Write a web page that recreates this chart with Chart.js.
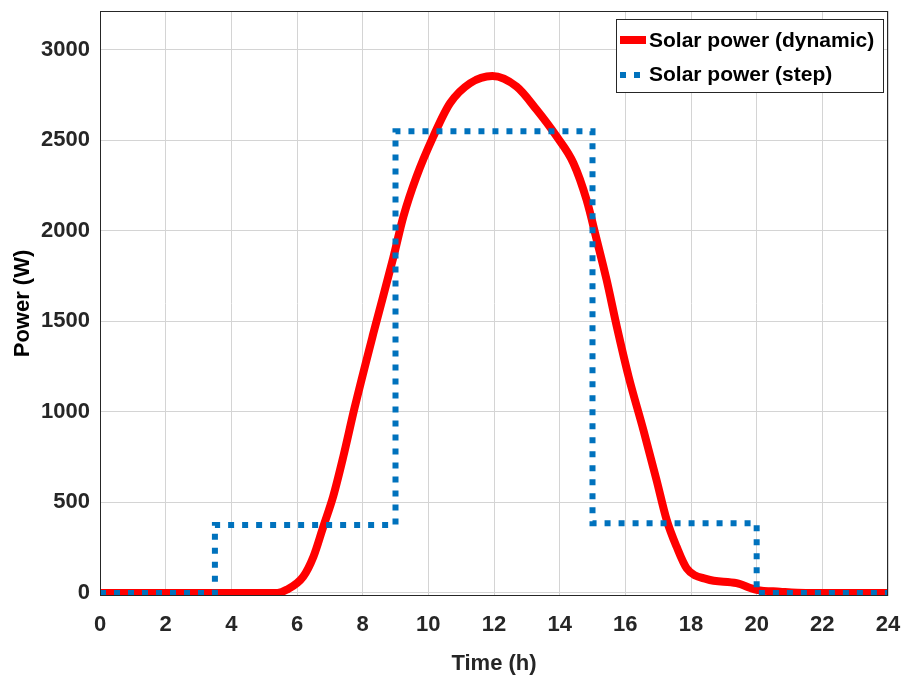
<!DOCTYPE html>
<html>
<head>
<meta charset="utf-8">
<script src="https://cdn.jsdelivr.net/npm/chart.js@4"></script>
<style>
  html, body { margin: 0; padding: 0; background: #fff; }
  #wrap { width: 903px; height: 677px; }
</style>
</head>
<body>
<div id="wrap"><canvas id="solarChart" width="903" height="677"></canvas></div>
<script>
// ---- data ----
const dynHours = [0, 5.4, 5.68, 6.19, 6.5, 6.8, 7.1, 7.41, 7.75, 8.32, 8.93, 9.24, 9.64, 10.15, 10.66, 11.27, 11.95, 12.69, 13.3, 13.91, 14.42, 14.82, 15.13, 15.43, 15.74, 16.1, 16.55, 16.95, 17.26, 17.56, 17.87, 18.48, 19.39, 20.0, 20.71, 21.5, 24];
const dynPower = [0, 0, 17, 90, 200, 366, 532, 753, 1020, 1430, 1850, 2079, 2300, 2521, 2705, 2816, 2856, 2797, 2669, 2521, 2374, 2171, 1950, 1729, 1471, 1195, 900, 624, 403, 256, 136, 76, 54, 17, 7, 0, 0];

const stepHours = [0, 3.5, 9, 15, 20, 24];
const stepPower = [0, 375, 2550, 385, 0, 0];

const xTicks = [0, 2, 4, 6, 8, 10, 12, 14, 16, 18, 20, 22, 24];
const yTicks = [0, 500, 1000, 1500, 2000, 2500, 3000];

const legendLabels = ['Solar power (dynamic)', 'Solar power (step)'];

const RED = '#ff0000';
const BLUE = '#0072bd';
const AXIS = '#262626';
const FONT = '"Liberation Sans", Arial, sans-serif';

function pairs(xs, ys) {
    return xs.map((x, i) => ({ x: x, y: ys[i] }));
}

// fix chart area exactly: drop the label overhang padding chart.js adds
function noOverhang(scale) {
    scale.paddingTop = 0;
    scale.paddingBottom = 0;
    scale.paddingLeft = 0;
    scale.paddingRight = 0;
}

// box around plot + legend inside the axes (MATLAB style)
const matlabDecor = {
    id: 'matlabDecor',
    afterDatasetsDraw(chart) {
        const ctx = chart.ctx;
        const a = chart.chartArea;
        ctx.save();
        ctx.strokeStyle = AXIS;
        ctx.lineWidth = 1;
        ctx.strokeRect(a.left + 0.5, a.top + 0.5, a.right - a.left - 1, a.bottom - a.top - 1);

        // legend box
        const lx = 616, ly = 19, lw = 267, lh = 73;
        ctx.fillStyle = '#fff';
        ctx.fillRect(lx, ly, lw, lh);
        ctx.strokeStyle = AXIS;
        ctx.strokeRect(lx + 0.5, ly + 0.5, lw, lh);

        // red sample
        ctx.strokeStyle = RED;
        ctx.lineWidth = 8;
        ctx.beginPath();
        ctx.moveTo(620, 40);
        ctx.lineTo(646, 40);
        ctx.stroke();

        // blue dotted sample
        ctx.strokeStyle = BLUE;
        ctx.lineWidth = 6;
        ctx.setLineDash([6, 8]);
        ctx.beginPath();
        ctx.moveTo(620, 75);
        ctx.lineTo(646, 75);
        ctx.stroke();
        ctx.setLineDash([]);

        ctx.fillStyle = '#000';
        ctx.font = 'bold 21px ' + FONT;
        ctx.textBaseline = 'middle';
        ctx.textAlign = 'left';
        ctx.fillText(legendLabels[0], 649, 41);
        ctx.fillText(legendLabels[1], 649, 75);
        ctx.restore();
    }
};

const ctx = document.getElementById('solarChart');
new Chart(ctx, {
    type: 'line',
    data: {
        datasets: [
            {
                label: legendLabels[0],
                data: pairs(dynHours, dynPower),
                borderColor: RED,
                borderWidth: 8,
                pointRadius: 0,
                cubicInterpolationMode: 'monotone',
                fill: false,
                order: 2
            },
            {
                label: legendLabels[1],
                data: pairs(stepHours, stepPower),
                borderColor: BLUE,
                borderWidth: 6,
                borderDash: [6, 8],
                borderCapStyle: 'butt',
                stepped: 'before',
                pointRadius: 0,
                fill: false,
                order: 1
            }
        ]
    },
    options: {
        responsive: false,
        animation: false,
        layout: { padding: { top: 11, right: 15, left: 0, bottom: 0 } },
        plugins: {
            legend: { display: false },
            tooltip: { enabled: false }
        },
        scales: {
            x: {
                type: 'linear',
                min: 0,
                max: 24,
                afterBuildTicks: (scale) => { scale.ticks = xTicks.map(v => ({ value: v })); },
                afterFit: (scale) => { scale.height = 81; noOverhang(scale); },
                grid: { color: '#d4d4d4', lineWidth: 1, drawTicks: false },
                border: { display: false },
                ticks: {
                    color: AXIS,
                    padding: 16,
                    maxRotation: 0,
                    autoSkip: false,
                    callback: (v) => String(v),
                    font: { family: FONT, size: 22, weight: 'bold' }
                },
                title: {
                    display: true,
                    text: 'Time (h)',
                    color: AXIS,
                    padding: { top: 2, bottom: 0 },
                    font: { family: FONT, size: 22, weight: 'bold' }
                }
            },
            y: {
                type: 'linear',
                min: -17,
                max: 3215,
                afterBuildTicks: (scale) => { scale.ticks = yTicks.map(v => ({ value: v })); },
                afterFit: (scale) => { scale.width = 100; noOverhang(scale); },
                grid: { color: '#d4d4d4', lineWidth: 1, drawTicks: false },
                border: { display: false },
                ticks: {
                    color: AXIS,
                    padding: 10,
                    autoSkip: false,
                    callback: (v) => String(v),
                    font: { family: FONT, size: 22, weight: 'bold' }
                },
                title: {
                    display: true,
                    text: 'Power (W)',
                    color: '#000',
                    padding: { top: 10, bottom: 0 },
                    font: { family: FONT, size: 22, weight: 'bold' }
                }
            }
        }
    },
    plugins: [matlabDecor]
});
</script>
</body>
</html>
